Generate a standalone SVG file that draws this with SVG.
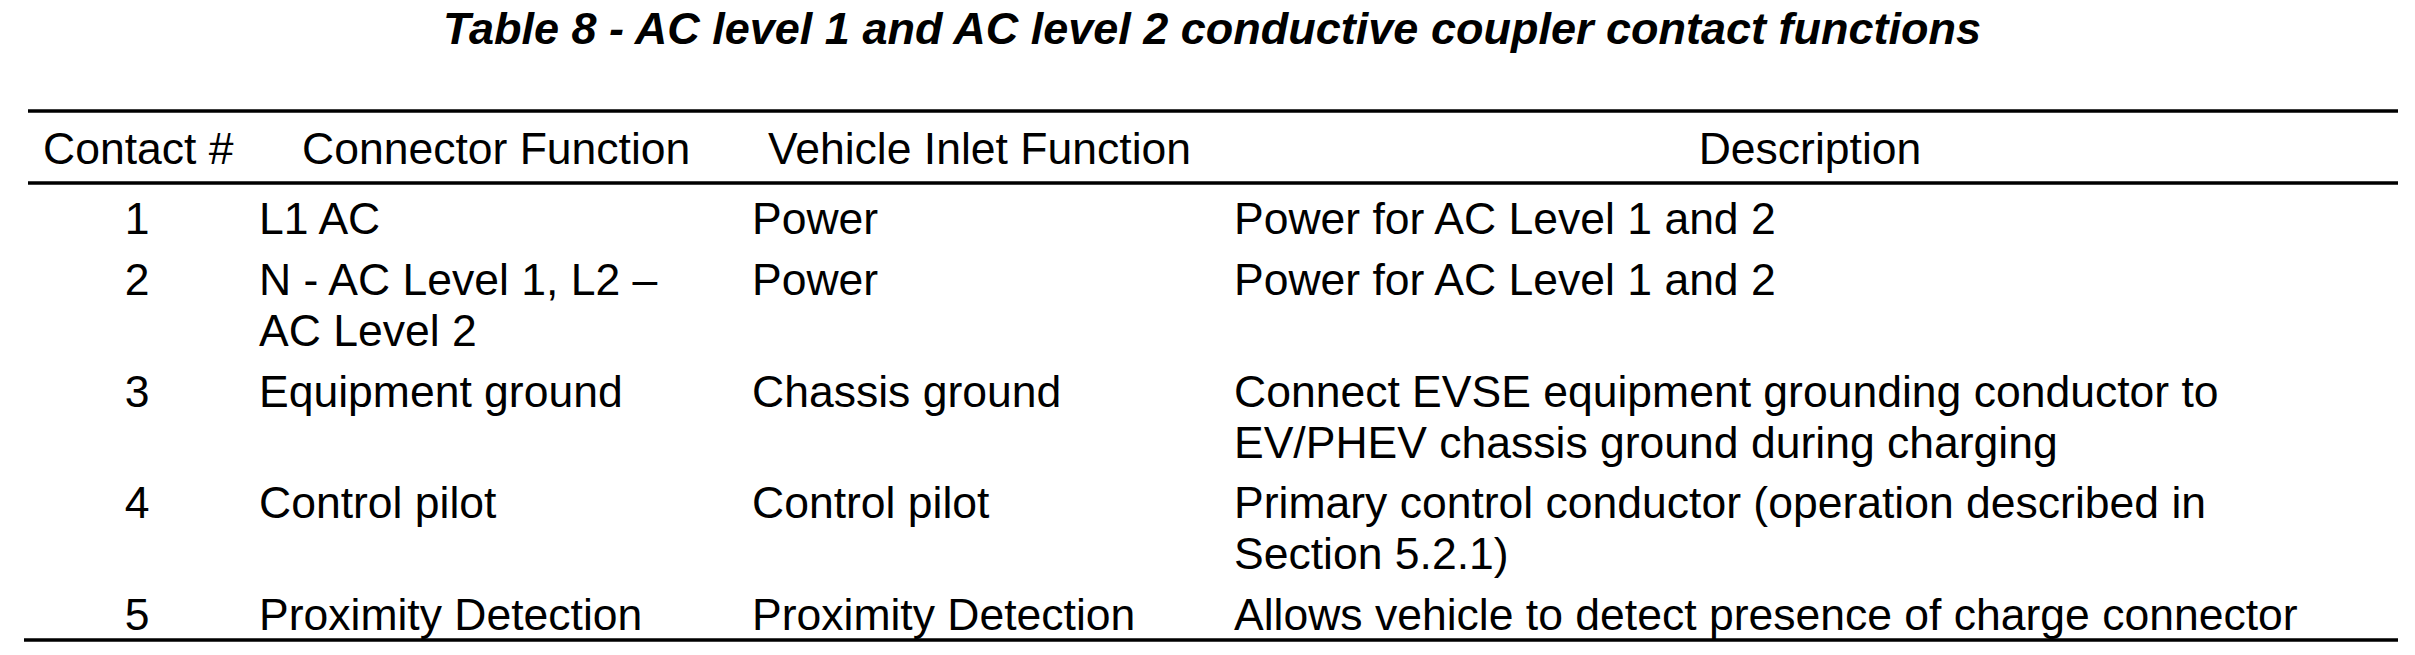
<svg xmlns="http://www.w3.org/2000/svg" width="2415" height="655" viewBox="0 0 2415 655">
<style>
text{font-family:"Liberation Sans",Arial,sans-serif;font-size:44.5px;fill:#000}
.t{font-weight:bold;font-style:italic;font-size:45px}
.c{text-anchor:middle}
line{stroke:#000;stroke-width:3.5}
</style>
<rect width="2415" height="655" fill="#fff"/>
<text class="t c" x="1212" y="44">Table 8 - AC level 1 and AC level 2 conductive coupler contact functions</text>
<g id="rules">
<line x1="28" y1="111" x2="2398" y2="111"/>
<line x1="28" y1="183" x2="2398" y2="183"/>
<line x1="24" y1="640" x2="2398" y2="640"/>
</g>
<g id="header">
<text x="43" y="164">Contact #</text>
<text x="302" y="164">Connector Function</text>
<text x="768" y="164">Vehicle Inlet Function</text>
<text class="c" x="1810" y="164">Description</text>
</g>
<g id="row1">
<text class="c" x="137" y="234">1</text>
<text x="259" y="234">L1 AC</text>
<text x="752" y="234">Power</text>
<text x="1234" y="234">Power for AC Level 1 and 2</text>
</g>
<g id="row2">
<text class="c" x="137" y="295">2</text>
<text x="259" y="295">N - AC Level 1, L2 –</text>
<text x="259" y="346">AC Level 2</text>
<text x="752" y="295">Power</text>
<text x="1234" y="295">Power for AC Level 1 and 2</text>
</g>
<g id="row3">
<text class="c" x="137" y="407">3</text>
<text x="259" y="407">Equipment ground</text>
<text x="752" y="407">Chassis ground</text>
<text x="1234" y="407">Connect EVSE equipment grounding conductor to</text>
<text x="1234" y="458">EV/PHEV chassis ground during charging</text>
</g>
<g id="row4">
<text class="c" x="137" y="518">4</text>
<text x="259" y="518">Control pilot</text>
<text x="752" y="518">Control pilot</text>
<text x="1234" y="518">Primary control conductor (operation described in</text>
<text x="1234" y="569">Section 5.2.1)</text>
</g>
<g id="row5">
<text class="c" x="137" y="630">5</text>
<text x="259" y="630">Proximity Detection</text>
<text x="752" y="630">Proximity Detection</text>
<text x="1234" y="630">Allows vehicle to detect presence of charge connector</text>
</g>
</svg>
